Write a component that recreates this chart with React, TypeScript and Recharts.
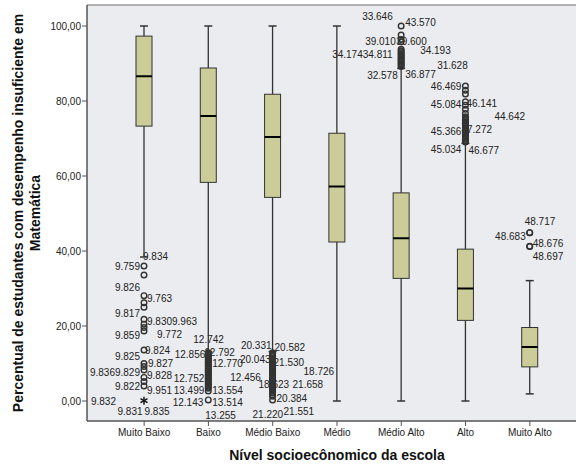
import React from 'react';
import { ComposedChart, Bar, XAxis, YAxis, CartesianGrid, ReferenceLine } from 'recharts';

// ─── Data ───────────────────────────────────────────────────────────────────

const categories = ['Muito Baixo', 'Baixo', 'Médio Baixo', 'Médio', 'Médio Alto', 'Alto', 'Muito Alto'];

const whiskerLow = [38.4, 13.2, 13.2, 0, 0, 0, 1.9];
const q1 = [73.3, 58.3, 54.3, 42.4, 32.7, 21.5, 9.1];
const median = [86.6, 76.0, 70.4, 57.2, 43.4, 30.0, 14.4];
const q3 = [97.3, 88.8, 81.8, 71.4, 55.5, 40.5, 19.6];
const whiskerHigh = [100, 100, 100, 100, 88.7, 68.7, 32.1];

const outliers: number[][] = [
  [36.0, 33.6, 28.1, 26.2, 25.0, 21.8, 20.5, 19.6, 18.7, 13.6, 10.0, 9.2, 8.3, 6.3, 5.2, 4.0],
  [12.9, 12.6, 12.2, 11.9, 11.6, 11.2, 10.9, 10.5, 10.2, 9.9, 9.5, 9.2, 8.8, 8.5, 8.1, 7.8, 7.5, 7.1, 6.8, 6.4,
    6.1, 5.8, 5.4, 5.1, 4.7, 4.4, 4.1, 3.7, 3.4, 2.7, 0.3],
  [12.9, 12.6, 12.2, 11.9, 11.5, 11.2, 10.9, 10.5, 10.2, 9.8, 9.5, 9.2, 8.8, 8.5, 8.1, 7.8, 7.4, 7.1, 6.8, 6.4,
    6.1, 5.7, 5.4, 5.1, 4.7, 4.4, 4.0, 3.7, 3.3, 3.0, 2.6, 2.2, 1.6, 1.3, 0.3],
  [],
  [100.0, 97.6, 96.4, 95.8, 93.8, 93.4, 93.1, 92.7, 92.4, 92.0, 91.7, 91.3, 91.0, 90.6, 90.3, 89.9, 89.6, 89.2],
  [84.0, 82.9, 81.9, 79.8, 78.9, 77.8, 76.7, 75.8, 75.4, 75.0, 74.7, 74.3, 74.0, 73.6, 73.3, 72.9, 72.6, 72.2,
    71.9, 71.5, 71.2, 70.8, 70.5, 70.1, 69.8, 69.4, 69.1],
  [44.9, 44.9, 41.3, 41.2],
];

const extremes: number[][] = [[0.1], [], [], [], [], [], []];

// case labels: text, value (vertical centre), dx from box centre, anchor
type CaseLabel = [string, number, number, 'start' | 'end' | 'middle'];
const caseLabels: CaseLabel[][] = [
  [
    ['9.834', 38.5, -1, 'start'], ['9.759', 35.8, -4, 'end'], ['9.826', 30.3, -4, 'end'],
    ['9.763', 27.4, 3, 'start'], ['9.817', 23.4, -4, 'end'], ['9.8309.963', 21.3, 3, 'start'],
    ['9.859', 17.6, -4, 'end'], ['9.772', 17.8, 13, 'start'], ['9.824', 13.6, 1, 'start'],
    ['9.825', 11.8, -4, 'end'], ['9.827', 9.9, 4, 'start'], ['9.8369.829', 7.5, -4, 'end'],
    ['9.828', 6.7, 3, 'start'], ['9.822', 3.8, -4, 'end'], ['9.951', 2.9, 3, 'start'],
    ['9.832', -0.2, -28, 'end'], ['9.831', -2.7, -14, 'middle'], ['9.835', -2.7, 13, 'middle'],
  ],
  [
    ['12.742', 16.5, -15, 'start'], ['12.856', 12.5, -3, 'end'], ['12.792', 13.0, -4, 'start'],
    ['12.770', 9.9, 4, 'start'], ['12.752', 6.1, -4, 'end'], ['12.456', 6.3, 22, 'start'],
    ['13.499', 2.7, -4, 'end'], ['13.554', 2.7, 4, 'start'], ['12.143', -0.5, -5, 'end'],
    ['13.514', -0.5, 4, 'start'], ['13.255', -3.9, -3, 'start'],
  ],
  [
    ['20.331', 14.7, -1, 'end'], ['20.582', 14.2, 2, 'start'], ['20.043', 11.1, -2, 'end'],
    ['21.530', 10.2, 1, 'start'], ['18.623', 4.5, -14, 'start'], ['21.658', 4.3, 20, 'start'],
    ['18.726', 7.8, 31, 'start'], ['20.384', 0.7, 4, 'start'], ['21.220', -3.7, -20, 'start'],
    ['21.551', -2.7, 11, 'start'],
  ],
  [],
  [
    ['33.646', 102.5, -39, 'start'], ['43.570', 100.9, 4, 'start'], ['39.010', 95.8, -36, 'start'],
    ['39.600', 96.0, -5, 'start'], ['34.17434.811', 92.5, -69, 'start'], ['34.193', 93.6, 19, 'start'],
    ['31.628', 89.5, 36, 'start'], ['32.578', 86.9, -34, 'start'], ['36.877', 87.2, 4, 'start'],
  ],
  [
    ['46.469', 84.0, -4, 'end'], ['45.084', 79.1, -4, 'end'], ['46.141', 79.4, 1, 'start'],
    ['44.642', 76.0, 29, 'start'], ['45.366', 72.0, -4, 'end'], ['47.272', 72.5, -4, 'start'],
    ['45.034', 67.1, -4, 'end'], ['46.677', 66.7, 3, 'start'],
  ],
  [
    ['48.717', 47.8, -5, 'start'], ['48.683', 44.0, -4, 'end'], ['48.676', 42.0, 3, 'start'],
    ['48.697', 38.5, 3, 'start'],
  ],
];

const yTicks = [0, 20, 40, 60, 80, 100];
const yDomain: [number, number] = [-5.33, 105.6];

const rows = categories.map((cat, i) => ({
  cat,
  idx: i,
  lo: whiskerLow[i],
  hi: whiskerHigh[i],
  range: [whiskerLow[i], whiskerHigh[i]],
}));

// ─── Styles ─────────────────────────────────────────────────────────────────

const LINE = '#333333';
const BOX_FILL = '#CCCC99';
const FONT = '"Liberation Sans", Arial, sans-serif';

// ─── Box shape: whiskers, box, median, outliers and case labels ─────────────

function BoxShape(props: any) {
  const { x, y, width, height, payload } = props;
  const { lo, hi, idx } = payload;
  const py = (v: number) => y + ((hi - v) * height) / (hi - lo);
  const cx = x + width / 2;
  const cap = 4;

  return (
    <g>
      {caseLabels[idx].map(([t, v, dx, anchor], k) => (
        <text
          key={`l${k}`}
          x={cx + dx}
          y={py(v)}
          textAnchor={anchor}
          dominantBaseline="central"
          fontSize={10}
          fontFamily={FONT}
          fill="#222"
        >
          {t}
        </text>
      ))}
      <line x1={cx} x2={cx} y1={py(hi)} y2={py(lo)} stroke={LINE} strokeWidth={1.3} />
      <line x1={cx - cap} x2={cx + cap} y1={py(hi)} y2={py(hi)} stroke={LINE} strokeWidth={1.5} />
      <line x1={cx - cap} x2={cx + cap} y1={py(lo)} y2={py(lo)} stroke={LINE} strokeWidth={1.5} />
      <rect
        x={x}
        y={py(q3[idx])}
        width={width}
        height={py(q1[idx]) - py(q3[idx])}
        fill={BOX_FILL}
        stroke={LINE}
        strokeWidth={1}
      />
      <line x1={x} x2={x + width} y1={py(median[idx])} y2={py(median[idx])} stroke="#000" strokeWidth={2} />
      {outliers[idx].map((v, k) => (
        <circle key={`o${k}`} cx={cx} cy={py(v)} r={2.8} fill="none" stroke={LINE} strokeWidth={1.4} />
      ))}
      {extremes[idx].map((v, k) => (
        <g key={`e${k}`} stroke="#111" strokeWidth={1.4}>
          <line x1={cx} x2={cx} y1={py(v) - 4} y2={py(v) + 4} />
          <line x1={cx - 3.5} x2={cx + 3.5} y1={py(v) - 2} y2={py(v) + 2} />
          <line x1={cx - 3.5} x2={cx + 3.5} y1={py(v) + 2} y2={py(v) - 2} />
        </g>
      ))}
    </g>
  );
}

// ─── Axis titles ────────────────────────────────────────────────────────────

function XTitle({ viewBox }: any) {
  if (!viewBox) return null;
  return (
    <text
      x={viewBox.x + viewBox.width / 2}
      y={viewBox.y + 34}
      textAnchor="middle"
      dominantBaseline="central"
      fontSize={14}
      fontWeight="bold"
      fontFamily={FONT}
      fill="#111"
    >
      Nível socioecônomico da escola
    </text>
  );
}

function YTitle({ viewBox }: any) {
  if (!viewBox) return null;
  const cy = viewBox.y + viewBox.height / 2;
  return (
    <g fontSize={14} fontWeight="bold" fontFamily={FONT} fill="#111">
      <text x={18} y={cy} transform={`rotate(-90 18 ${cy})`} textAnchor="middle" dominantBaseline="central">
        Percentual de estudantes com desempenho insuficiente em
      </text>
      <text x={35} y={cy} transform={`rotate(-90 35 ${cy})`} textAnchor="middle" dominantBaseline="central">
        Matemática
      </text>
    </g>
  );
}

// ─── Main ───────────────────────────────────────────────────────────────────

export default function App() {
  return (
    <div
      style={{
        position: 'fixed',
        left: 0,
        top: 0,
        width: 576,
        height: 467,
        overflow: 'hidden',
        background: '#fff',
      }}
    >
      <ComposedChart width={600} height={467} data={rows} margin={{ top: 5, right: 13, bottom: 0, left: 0 }}>
        <CartesianGrid horizontal={false} vertical={false} fill="#EBECEF" />
        <XAxis
          dataKey="cat"
          type="category"
          interval={0}
          padding={{ left: 25, right: 25 }}
          height={46}
          tickSize={5}
          tickMargin={3}
          tick={{ fontSize: 10, fill: '#222', fontFamily: FONT }}
          axisLine={{ stroke: '#555', strokeWidth: 1.5 }}
          tickLine={{ stroke: '#555' }}
          label={<XTitle />}
        />
        <YAxis
          type="number"
          domain={yDomain}
          allowDataOverflow
          ticks={yTicks}
          width={87}
          tickSize={5}
          tickMargin={1}
          tick={{ fontSize: 10, fill: '#222', fontFamily: FONT }}
          axisLine={{ stroke: '#555', strokeWidth: 1.5 }}
          tickLine={{ stroke: '#555' }}
          tickFormatter={(v: number) => v.toFixed(2).replace('.', ',')}
          label={<YTitle />}
        />
        <ReferenceLine y={yDomain[1]} stroke="#999" strokeWidth={1.5} />
        <Bar dataKey="range" barSize={16} shape={<BoxShape />} isAnimationActive={false} />
      </ComposedChart>
    </div>
  );
}
